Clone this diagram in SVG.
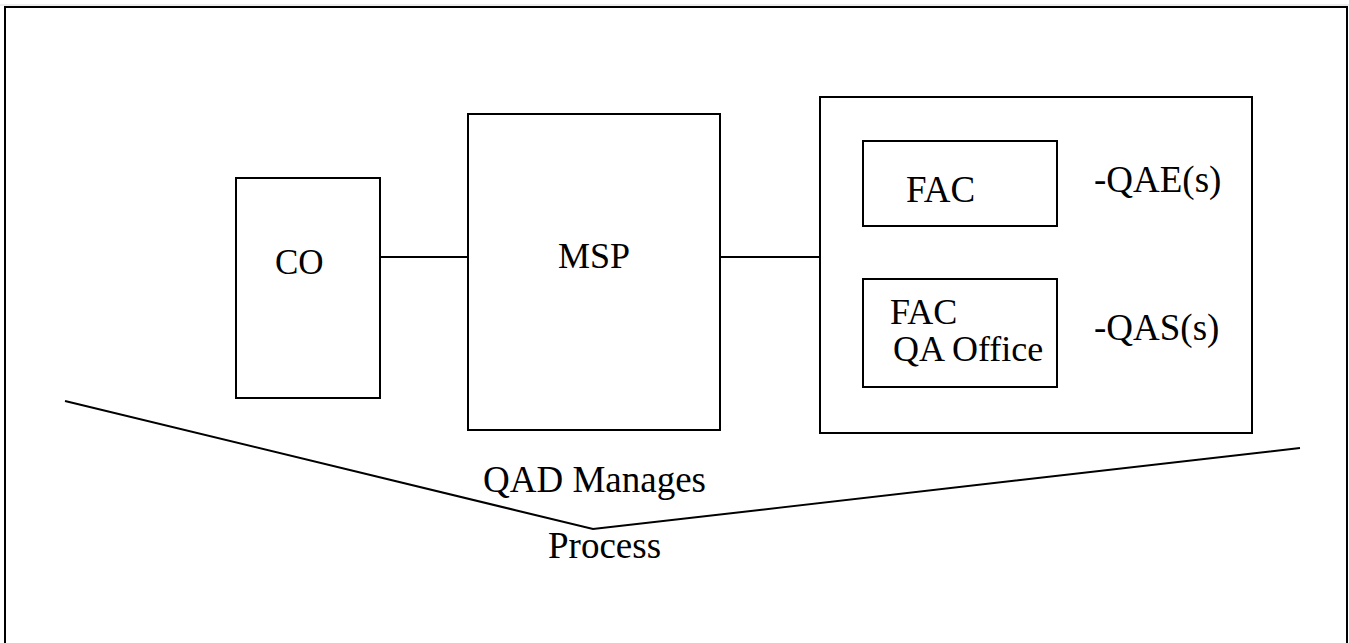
<svg xmlns="http://www.w3.org/2000/svg" width="1349" height="643" viewBox="0 0 1349 643">
<style>
.b{fill:#fff;stroke:#000;stroke-width:2}
.l{fill:none;stroke:#000;stroke-width:2}
.t{font-family:'Liberation Serif','Times New Roman',Times,serif;font-size:37px;fill:#000}
</style>
<rect width="1349" height="643" fill="#fff"/>
<line x1="0" y1="5" x2="1349" y2="5" stroke="#ddd" stroke-width="1"/>
<rect x="5" y="7" width="1342" height="660" fill="none" stroke="#000" stroke-width="2"/>
<g id="connectors">
<line class="l" x1="380" y1="257" x2="468" y2="257"/>
<line class="l" x1="720" y1="257" x2="820" y2="257"/>
<polyline class="l" points="65,401 593,529 1300,448"/>
</g>
<g id="co"><rect class="b" x="236" y="178" width="144" height="220"/><text class="t" style="font-size:35px" x="275" y="274">CO</text></g>
<g id="msp"><rect class="b" x="468" y="114" width="252" height="316"/><text class="t" style="font-size:36px" x="558" y="268">MSP</text></g>
<g id="group"><rect class="b" x="820" y="97" width="432" height="336"/></g>
<g id="fac"><rect class="b" x="863" y="141" width="194" height="85"/><text class="t" x="906" y="202">FAC</text></g>
<g id="qae"><text class="t" x="1094" y="192">-QAE(s)</text></g>
<g id="facqa"><rect class="b" x="863" y="279" width="194" height="108"/><text class="t" style="font-size:36px" x="890" y="324">FAC</text><text class="t" style="font-size:36px" x="893" y="361">QA Office</text></g>
<g id="qas"><text class="t" x="1094" y="340">-QAS(s)</text></g>
<g id="label"><text class="t" x="483" y="492">QAD Manages</text><text class="t" x="548" y="558">Process</text></g>
</svg>
